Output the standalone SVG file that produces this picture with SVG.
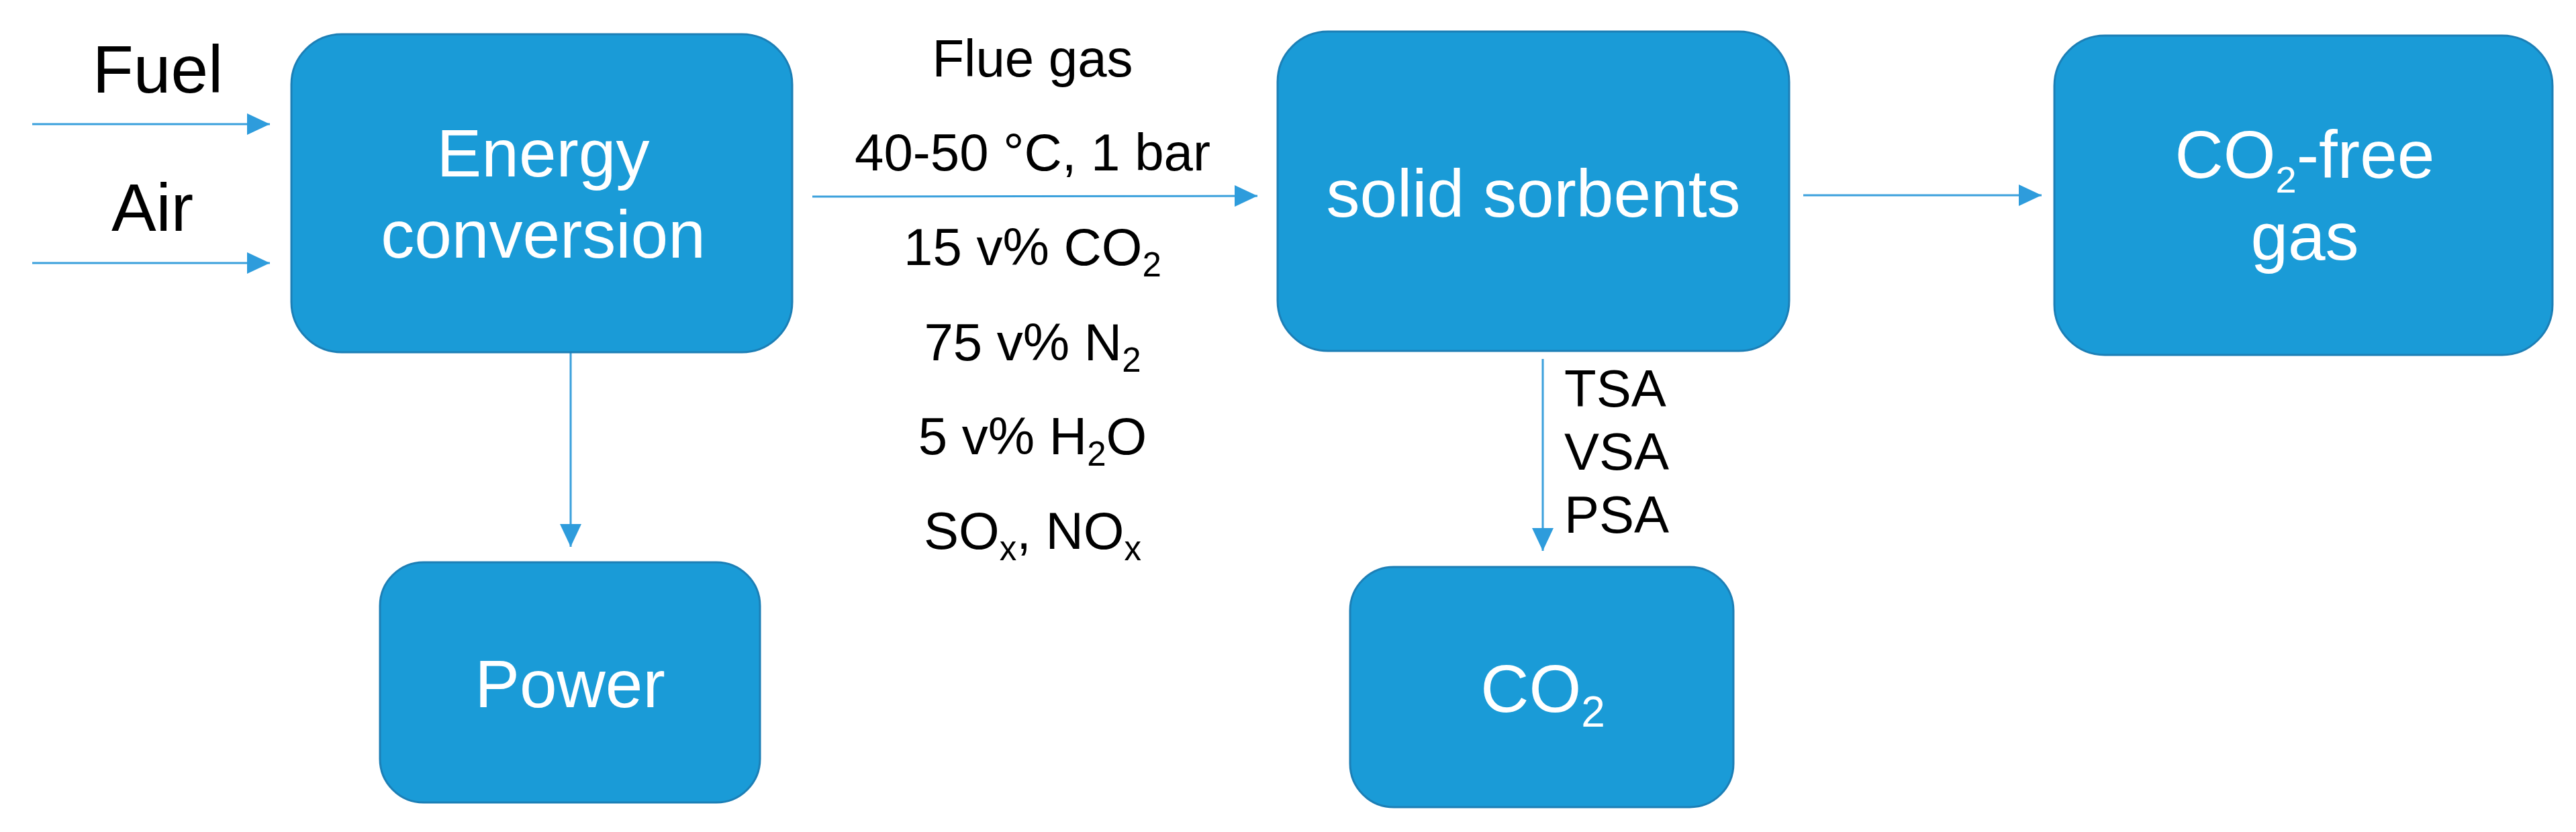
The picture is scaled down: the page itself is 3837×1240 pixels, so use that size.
<svg xmlns="http://www.w3.org/2000/svg" width="3837" height="1240" viewBox="0 0 3837 1240">
  <style>
    .box { fill: #1A9BD7; stroke: #1C7FB6; stroke-width: 3; }
    .wt { fill: #FFFFFF; font-family: "Liberation Sans", Arial, sans-serif; font-size: 100px; text-anchor: middle; }
    .bt { fill: #000000; font-family: "Liberation Sans", Arial, sans-serif; font-size: 100px; text-anchor: middle; }
    .lbl { fill: #000000; font-family: "Liberation Sans", Arial, sans-serif; font-size: 78px; text-anchor: middle; }
    .lbl2 { fill: #000000; font-family: "Liberation Sans", Arial, sans-serif; font-size: 78px; text-anchor: start; }
    .conn { stroke: #3AA0DC; stroke-width: 3; fill: none; marker-end: url(#arrow); }
  </style>
  <defs>
    <marker id="arrow" markerUnits="userSpaceOnUse" markerWidth="34" markerHeight="32" refX="34" refY="16" orient="auto">
      <path d="M0,0 L34,16 L0,32 Z" fill="#2E9CDC"/>
    </marker>
  </defs>
  <rect width="3837" height="1240" fill="#FFFFFF"/>

  <g id="connectors">
    <line class="conn" x1="48" y1="185" x2="402" y2="185"/>
    <line class="conn" x1="48" y1="392" x2="402" y2="392"/>
    <line class="conn" x1="850" y1="526" x2="850" y2="815"/>
    <line class="conn" x1="1210" y1="293" x2="1873" y2="292"/>
    <line class="conn" x1="2686" y1="291" x2="3041" y2="291"/>
    <line class="conn" x1="2298" y1="535" x2="2298" y2="821"/>
  </g>

  <g id="label-fuel">
    <text class="bt" x="235" y="138">Fuel</text>
  </g>
  <g id="label-air">
    <text class="bt" x="227" y="344">Air</text>
  </g>

  <g id="node-energy">
    <rect class="box" x="434" y="51" width="746" height="474" rx="75" ry="75"/>
    <text class="wt" x="809" y="263">Energy</text>
    <text class="wt" x="809" y="384">conversion</text>
  </g>

  <g id="node-power">
    <rect class="box" x="566" y="838" width="566" height="358" rx="65" ry="65"/>
    <text class="wt" x="849" y="1054">Power</text>
  </g>

  <g id="label-flue">
    <text class="lbl" x="1538" y="114">Flue gas</text>
    <text class="lbl" x="1538" y="254">40-50 °C, 1 bar</text>
    <text class="lbl" x="1538" y="395">15 v% CO<tspan font-size="51" dy="17">2</tspan></text>
    <text class="lbl" x="1538" y="537">75 v% N<tspan font-size="51" dy="17">2</tspan></text>
    <text class="lbl" x="1538" y="677">5 v% H<tspan font-size="51" dy="17">2</tspan><tspan dy="-17">O</tspan></text>
    <text class="lbl" x="1538" y="818">SO<tspan font-size="51" dy="17">x</tspan><tspan dy="-17">, NO</tspan><tspan font-size="51" dy="17">x</tspan></text>
  </g>

  <g id="node-solid">
    <rect class="box" x="1903" y="47" width="762" height="476" rx="75" ry="75"/>
    <text class="wt" x="2284" y="323">solid sorbents</text>
  </g>

  <g id="label-sa">
    <text class="lbl2" x="2330" y="606">TSA</text>
    <text class="lbl2" x="2330" y="700">VSA</text>
    <text class="lbl2" x="2330" y="794">PSA</text>
  </g>

  <g id="node-co2free">
    <rect class="box" x="3060" y="53" width="742" height="476" rx="75" ry="75"/>
    <text class="wt" x="3433" y="265">CO<tspan font-size="56" dy="22">2</tspan><tspan dy="-22">-free</tspan></text>
    <text class="wt" x="3433" y="387">gas</text>
  </g>

  <g id="node-co2">
    <rect class="box" x="2011" y="845" width="571" height="358" rx="65" ry="65"/>
    <text class="wt" x="2298" y="1061">CO<tspan font-size="64" dy="22">2</tspan></text>
  </g>
</svg>
